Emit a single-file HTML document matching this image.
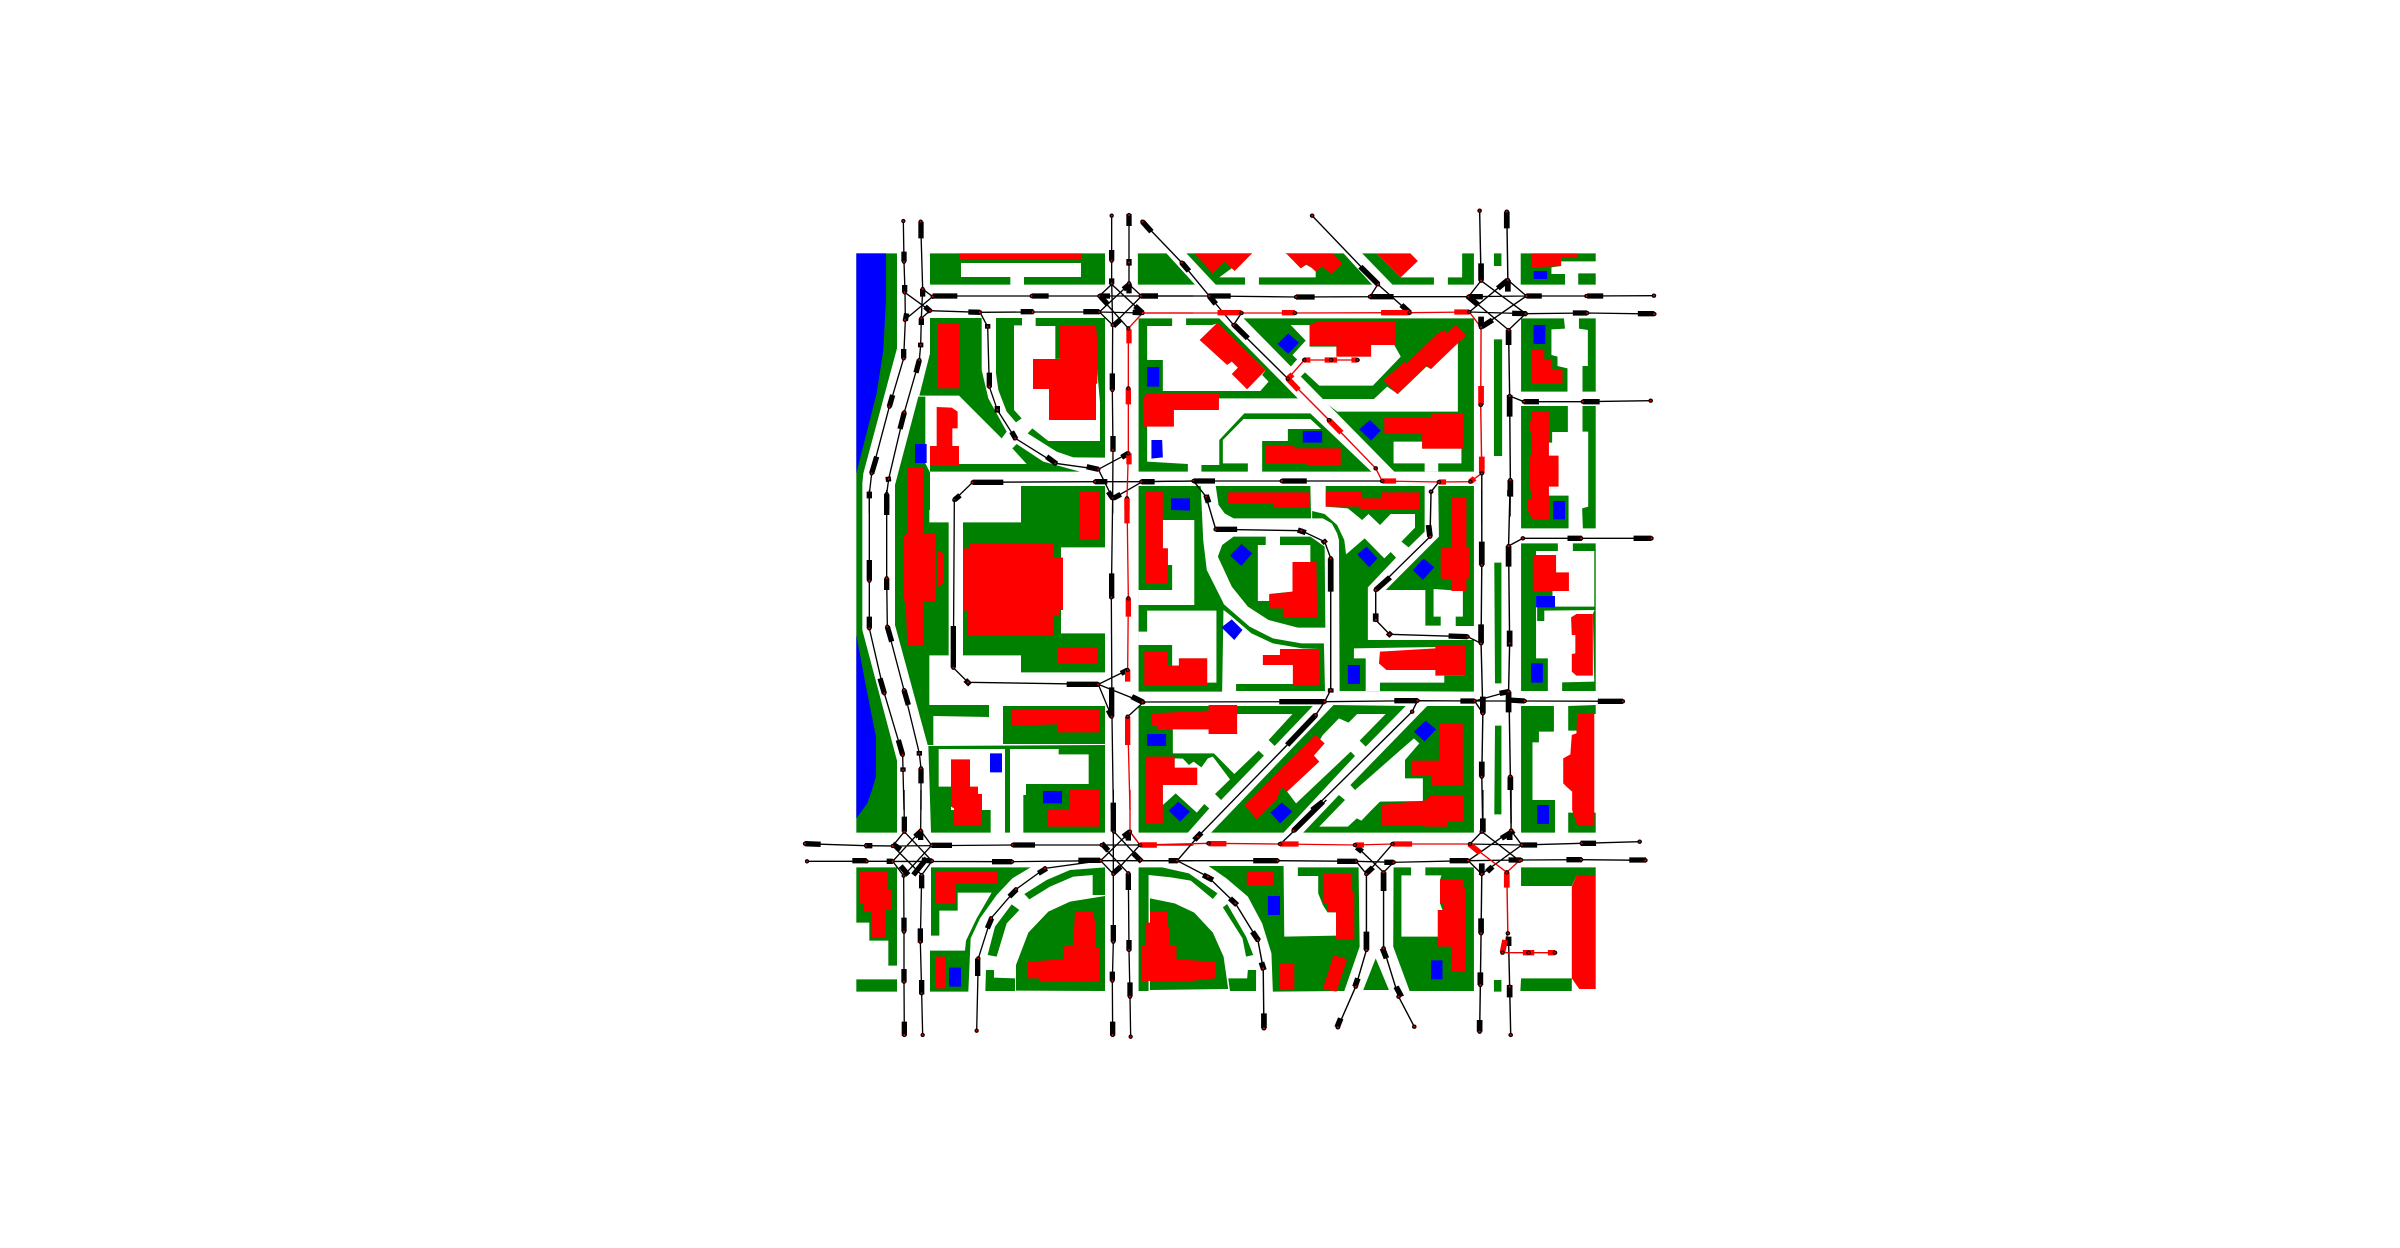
<!DOCTYPE html>
<html lang="en">
<head>
<meta charset="utf-8">
<title>Traffic network map</title>
<style>
html,body{margin:0;padding:0;background:#fff;width:2400px;height:1248px;overflow:hidden}
svg{display:block}
.g{fill:#008000}.w{fill:#fff}.r{fill:#f00}.b{fill:#00f}
.l{fill:none;stroke:#000;stroke-width:4}
.v{fill:none;stroke:#000;stroke-width:16}
.lr{fill:none;stroke:#e00;stroke-width:4}
.vr{fill:none;stroke:#f00;stroke-width:16}
.n{fill:none;stroke:#000;stroke-width:13;stroke-linecap:round}
.nr{fill:none;stroke:#e00000;stroke-width:6;stroke-linecap:round}
</style>
</head>
<body>
<svg xmlns="http://www.w3.org/2000/svg" width="2400" height="1248" viewBox="0 0 2400 1248">
<g>
<g transform="translate(780 190) scale(.33333)">
<path class="g" d="M229,190 351,190 351,475 250,850 247,880 247,1320 351,1712 351,1928 229,1928Z
M450,190 975,190 975,284 732,284 732,261 903,261 903,219 543,219 543,261 691,261 691,284 450,284Z
M450,384 605,384 605,540 625,625 680,725 665,745 537,617 418,617 450,490Z
M648,384 726,384 726,406 702,406 702,660 725,685 708,697 680,665 655,600 648,550Z
M767,384 975,384 975,803 880,802 830,785 743,730 757,715 805,753 960,753 960,638 948,500 826,507 826,408 767,408Z
M450,822 740,822 697,775 710,762 790,815 900,845 450,845Z
M415,620 436,620 436,820 450,847 450,960 345,960 345,885Z"/>
<path class="b" d="M229,190 318,190 318,330 310,480 290,610 229,850Z"/>
<path class="b" d="M229,1335 260,1500 288,1640 288,1760 276,1800 262,1840 229,1885Z"/>
<path class="r" d="M537,190 906,190 906,207 537,207Z
M472,401 537,401 537,595 472,595Z
M840,406 948,406 952,460 952,580 948,582 948,690 807,690 807,597 759,597 759,507 840,507Z
M381,833 430,833 430,960 381,960Z
M470,651 515,653 533,665 533,715 517,715 517,768 537,768 537,827 450,827 450,768 470,768Z"/>
<path class="b" d="M405,762 440,762 440,819 405,819Z"/>
</g>
<g transform="translate(780 490) scale(.33333)">
<path class="g" d="M723,-12 975,-12 975,172 843,172 843,430 975,430 975,547 723,547 723,496 549,496 549,97 723,97Z
M345,0 448,0 448,97 506,97 506,496 448,496 448,645 627,645 627,681 460,678 460,765 443,765 345,405Z
M669,648 975,648 975,762 669,762Z
M445,768 975,765 975,1028 730,1028 730,915 738,915 738,882 926,882 926,793 836,793 836,777 690,777 690,1028 675,1028 675,777 476,777 476,890 513,890 513,960 606,960 632,960 632,1028 453,1028Z"/>
<path class="r" d="M897,5 960,5 960,147 897,147Z
M568,160 822,160 822,203 849,203 849,360 838,360 838,375 822,375 822,437 564,437 564,362 549,362 549,175 568,175Z
M832,472 952,472 952,519 832,519Z
M695,660 957,660 957,727 833,727 833,703 695,707Z
M381,0 430,0 430,130 466,130 466,335 432,335 432,467 382,467 377,335 370,330 370,140 381,130Z
M472,180 490,190 490,280 472,292Z
M513,808 570,808 570,890 594,890 594,912 606,912 606,1005 522,1005 522,955 513,950Z
M870,898 960,898 960,1010 803,1010 803,960 870,960Z"/>
<path class="b" d="M630,790 666,790 666,847 630,847Z M789,903 846,903 846,940 789,940Z"/>
</g>
<g transform="translate(780 790) scale(.33333)">
<path class="g" d="M229,232 351,232 351,527 325,527 325,452 268,452 268,398 229,398Z
M229,568 351,568 351,605 229,605Z
M453,232 752,232 697,265 650,315 600,385 572,445 565,605 450,605 450,482 555,482 558,452 590,385 635,308 533,308 533,362 478,362 478,437 453,437Z
M733,312 800,270 870,240 975,232 975,315 938,315 938,255 880,260 810,290 748,328Z
M695,343 718,360 680,400 650,500 623,495 645,410Z
M618,540 642,540 642,563 705,565 705,603 616,603Z
M708,525 745,428 805,365 870,335 975,318 975,603 708,602Z"/>
<path class="r" d="M238,244 324,244 324,297 333,297 333,360 318,360 318,443 275,443 275,363 250,363 250,340 238,338Z
M468,245 653,245 653,282 527,282 527,340 468,340Z
M465,500 495,500 495,595 465,595Z
M885,363 937,363 947,400 947,473 958,473 958,575 777,575 777,565 741,565 741,515 850,508 850,470 880,466Z"/>
<path class="b" d="M507,533 543,533 543,590 507,590Z"/>
</g>
<g transform="translate(1130 190) scale(.35714 .33333)">
<path class="g" d="M22,190 102,190 182,284 22,284Z
M158,190 342,190 250,262 322,262 322,284 240,284Z
M435,190 598,190 678,284 361,284 361,262 520,262 520,240Z
M650,190 690,190 758,262 851,262 851,284 735,284Z
M890,262 930,262 930,190 963,190 963,284 890,284Z
M1019,190 1040,190 1040,228 1019,228Z
M1094,190 1304,190 1304,214 1207,214 1207,228 1180,232 1180,252 1218,252 1218,284 1094,284Z
M1255,250 1304,250 1304,284 1255,284Z
M24,385 118,385 118,408 48,408 48,510 92,510 92,603 250,603 250,625 48,625 48,815 162,822 162,845 24,845Z
M157,385 250,385 470,625 250,625 250,603 365,603 388,575 370,555 380,540 245,400 230,405 157,405Z
M318,385 963,385 963,845 740,845Z
M250,750 320,670 505,670 676,845 370,845 370,753 442,753 442,717 535,717 505,687 318,687 260,750 260,820 330,820 330,845 200,845 200,825 250,825Z
M1019,448 1042,448 1042,798 1019,798Z
M1095,385 1215,385 1218,416 1180,418 1180,495 1197,500 1197,528 1225,535 1225,605 1095,605Z
M1257,385 1304,385 1304,605 1267,605 1267,528 1282,528 1282,420 1257,416Z
M1095,648 1226,648 1226,726 1182,726 1182,758 1172,758 1172,917 1228,917 1228,1015 1095,1015Z
M1267,648 1304,648 1304,1015 1268,1015 1266,955 1283,950 1283,725 1267,725Z"/>
<path class="w" d="M450,405 503,405 503,470 578,470 578,500 675,500 675,465 740,465 758,500 680,587 530,587 490,547 478,560 450,530 468,508 455,495 492,452Z
M535,627 683,627 720,590 750,612 830,530 843,537 918,455 918,665 580,665Z
M738,755 818,755 818,776 928,776 928,820 863,820 863,845 825,845 825,820 738,820Z"/>
<path class="r" d="M180,190 342,190 293,243 265,215 232,250Z
M437,190 568,190 595,220 563,252 538,230 520,245 497,222 478,235Z
M690,190 785,190 806,213 758,262Z
M1124,190 1253,190 1253,201 1207,201 1207,228 1124,232Z
M195,450 245,398 380,540 328,598 285,552 302,533 285,515 272,525Z
M36,625 48,610 249,610 249,660 123,660 123,710 37,710Z
M503,405 525,395 742,395 742,465 675,465 675,500 578,500 578,468 503,468Z
M710,570 770,515 775,520 860,432 880,420 888,430 912,405 942,435 843,537 830,528 748,612Z
M712,683 843,683 843,670 935,670 935,776 818,776 818,730 712,730Z
M378,766 460,766 460,775 590,775 590,827 495,827 495,820 378,820Z
M1124,480 1160,480 1160,507 1182,507 1182,537 1211,540 1211,581 1124,581Z
M1125,665 1173,665 1173,797 1200,797 1200,890 1173,890 1173,988 1128,988 1113,960 1113,930 1125,925 1120,890 1120,800 1125,795 1125,730 1120,725 1120,695 1125,690Z"/>
<path class="b" d="M1130,243 1168,243 1168,267 1130,267Z
M443,430 473,458 443,492 413,462Z
M48,531 82,531 82,590 48,590Z
M60,750 90,750 92,802 60,806Z
M672,690 702,722 675,752 642,718Z
M484,723 538,723 538,758 484,758Z
M1130,405 1163,405 1163,462 1130,462Z
M1185,933 1218,933 1218,988 1185,988Z"/>
</g>
<g transform="translate(1130 490) scale(.35714 .33333)">
<path class="g" d="M24,-12 198,-12 205,150 215,240 262,340 258,605 24,605Z
M240,-12 505,-12 507,85 290,85 265,70 248,45Z
M297,582 530,582 530,477 482,475 400,460 340,430 280,375 262,360 260,388 262,342 335,410 400,445 480,460 543,460 546,603 297,603Z
M246,200 258,165 290,140 380,140 380,165 358,165 358,333 390,333 390,312 455,305 455,216 505,216 505,165 420,165 420,140 505,140 545,170 547,413 470,413 388,390 330,350 285,290Z
M510,63 545,72 580,105 600,150 605,193 657,145 712,205 730,186 745,203 666,292 666,450 963,450 963,605 587,603 585,150 580,130 565,100 540,85 510,85Z
M548,-12 825,-12 825,125 780,172 760,155 798,113 798,72 730,72 700,105 668,72 650,90 610,55 548,50Z
M863,-12 963,-12 963,408 912,408 912,380 932,380 932,303 850,297 850,380 870,380 870,407 827,407 827,300 716,300 865,140Z
M1020,218 1040,218 1040,580 1022,580Z
M1095,160 1198,160 1198,183 1137,183 1137,505 1170,505 1170,603 1095,603Z
M1137,303 1183,303 1183,318 1137,318Z
M1140,350 1304,350 1304,360 1160,362 1160,393 1140,393Z
M1240,160 1304,160 1304,183 1240,183Z M1300,183 1304,183 1304,350 1300,350Z
M1210,577 1300,575 1296,372 1304,350 1304,603 1210,603Z
M24,648 512,648 405,768 388,750 455,672 120,672 120,790 235,790 292,852 360,782 375,797 255,930 238,912 280,868 232,800 218,805 200,832 178,815 165,825 148,806 125,805 125,835 188,835 188,885 92,885 92,945 128,910 187,968 208,942 222,955 162,1028 24,1028Z
M227,1028 570,645 772,648 660,770 643,752 716,672 636,672 612,698 585,685 540,735 440,905 465,940 618,785 630,798 430,1028Z
M832,648 963,648 963,1028 485,1028 585,915 602,930 530,1010 610,1010 635,985 648,992 672,965 700,935 820,933 820,865 770,865 770,810 810,760 795,745 630,900 617,885Z
M1022,707 1040,707 1040,973 1020,973Z
M1095,648 1187,648 1187,725 1145,725 1145,757 1127,757 1127,930 1190,930 1190,1028 1095,1028Z
M1227,648 1304,645 1304,672 1252,672 1252,722 1227,722Z
M1227,968 1304,968 1304,1028 1227,1028Z"/>
<path class="w" d="M92,90 180,90 180,345 24,345 24,300 118,300 118,225 106,225 106,175 92,175Z
M48,362 242,362 242,578 216,578 216,505 137,505 137,527 118,527 118,465 24,465 24,425 48,425Z
M627,475 938,470 938,557 880,557 880,578 700,578 700,603 660,603 660,505 627,505Z"/>
<path class="r" d="M42,5 92,5 92,175 106,175 106,280 42,280Z
M40,483 106,483 106,527 137,527 137,505 216,505 216,587 40,587Z
M275,7 503,7 503,52 402,52 402,40 275,40Z
M455,216 522,216 524,382 428,382 428,355 390,355 390,313 455,305Z
M420,477 532,477 532,585 456,585 456,525 372,525 372,495 420,495Z
M548,5 650,5 650,25 705,25 705,7 810,7 810,58 645,58 645,50 548,50Z
M700,485 855,475 855,467 938,467 938,557 855,557 855,540 718,540 697,520Z
M900,22 942,22 942,172 952,172 952,265 942,265 942,303 900,303 900,270 870,265 870,175 900,172Z
M1128,195 1193,195 1193,247 1229,247 1229,303 1128,303Z
M1250,372 1296,372 1296,557 1250,557 1237,545 1237,492 1247,490 1247,435 1237,435 1235,382Z
M60,670 220,662 220,645 300,645 300,732 220,732 220,718 75,718 75,708 60,705Z
M45,800 125,800 125,833 188,833 188,885 92,885 92,1000 45,1000Z
M520,735 545,760 515,797 530,815 440,905 425,890 410,930 355,988 320,945Z
M865,700 932,700 932,885 843,885 843,855 787,855 787,812 865,812Z
M703,945 825,932 843,915 935,915 935,995 888,995 888,1010 825,1010 825,1005 703,1005Z
M1252,672 1300,672 1300,1005 1252,1005 1238,960 1238,905 1222,890 1213,880 1213,805 1233,793 1237,735 1250,730Z"/>
<path class="b" d="M115,25 168,25 168,62 115,60Z
M312,162 342,190 312,228 280,197Z
M285,388 315,420 292,450 256,412Z
M636,193 663,170 693,205 670,232Z
M610,525 644,525 644,582 610,582Z
M822,205 852,232 820,270 792,240Z
M1137,318 1190,318 1190,352 1137,352Z
M1123,520 1156,520 1156,578 1123,578Z
M48,732 101,732 101,768 48,768Z
M135,935 168,965 140,995 108,962Z
M425,938 455,965 420,1000 393,968Z
M828,692 857,718 825,755 795,725Z
M1140,945 1173,945 1173,1002 1140,1002Z"/>
</g>
<g transform="translate(1130 790) scale(.35714 .33333)">
<path class="g" d="M24,232 90,232 165,250 245,310 232,327 170,272 115,262 52,255 52,603 24,603Z
M56,325 125,340 180,368 232,428 262,500 275,597 56,600Z
M272,342 325,440 345,495 325,500 315,445 260,352Z
M275,565 328,565 330,540 353,540 353,603 280,603Z
M220,228 430,228 432,440 577,437 577,367 553,367 540,345 527,310 527,258 470,258 470,232 640,232 643,470 600,603 400,605 396,490 370,400 330,320 270,265Z
M688,505 725,600 653,600Z
M738,232 787,232 787,256 760,256 760,440 862,440 862,360 875,360 868,340 868,270 872,256 827,256 827,232 963,232 963,603 783,603 737,470Z
M1019,570 1040,570 1040,605 1019,605Z
M1095,232 1304,232 1304,258 1250,258 1237,288 1095,288Z
M1095,565 1237,565 1237,603 1093,603Z"/>
<path class="r" d="M56,365 105,365 105,410 110,410 110,467 130,467 130,508 238,515 238,565 170,573 33,573 33,468 45,468 45,398 56,398Z
M327,246 403,246 403,287 327,287Z
M420,520 460,520 460,600 420,600Z
M570,495 608,508 578,605 540,597Z
M540,250 622,250 622,305 628,305 628,447 577,447 577,367 553,365 553,342 540,340Z
M868,270 932,270 932,293 938,293 938,545 900,545 900,470 862,470 862,360 878,360 878,340 868,340Z
M1250,258 1304,258 1304,597 1258,597 1237,565 1237,290Z"/>
<path class="b" d="M386,318 420,318 420,375 386,375Z M843,511 875,511 875,568 843,568Z"/>
</g>
</g>
<g>
<g transform="translate(780 190) scale(.33333)">
<path class="l" d="M370,93 372,215 375,305 376,390 371,505 328,650 275,850 268,912 268,970
M422,95 428,297 424,385 422,465 418,510 373,667 326,867 320,912 320,970
M374,307 450,362 424,385 M376,388 458,320 428,297
M458,318 755,318 958,318 1240,318 M450,362 600,367 758,366 958,366 1088,369
M600,367 623,410 628,590 652,660 706,745 826,820 955,838 1045,790 M955,838 998,925
M958,318 995,283 1088,369 M1047,283 958,366 998,405 1085,318 1047,283 M958,318 1045,415
M995,77 995,275 998,405 997,600 999,780 998,925 998,970 M1047,75 1047,283
M523,930 578,877 945,875 1087,875 1240,873 M1087,875 1000,925"/>
<path class="lr" d="M1088,369 1045,415 1045,595 1045,790 1041,925 1041,970 M1088,369 1240,369"/>
<path class="v" d="M372,185 372,215 M374,285 374,307 M380,370 376,392 M371,477 371,505 M328,650 338,615 M275,850 290,800 M268,905 268,925
M423,95 423,145 M428,297 428,320 M424,385 424,405 M422,458 422,472 M418,510 408,548 M373,667 360,717 M324,860 326,875 M320,912 320,960
M458,318 532,318 M755,318 806,318 M958,318 990,318 M435,350 452,365 M565,366 600,367 M722,365 760,365 M910,365 958,365 M1058,367 1085,368
M623,402 623,416 M628,548 628,592 M652,648 652,668 M695,725 708,748 M800,800 830,822 M920,830 955,838 M1025,802 1045,790
M995,180 995,212 M995,265 995,283 M1000,408 1022,388 M997,550 997,600 M999,738 999,785
M1047,72 1047,108 M1047,207 1047,227 M1030,298 1052,280 M1047,280 1047,310 M962,320 982,342 M1065,348 1088,369
M1085,318 1134,318 M578,877 670,877 M945,875 982,875 M1085,875 1124,875 M523,930 540,916 M985,905 998,925 M1000,925 1022,913"/>
<path class="vr" d="M1047,418 1047,460 M1045,595 1045,643 M1047,790 1047,823 M1041,925 1041,960"/>
<path class="n" d="M370,93h0M372,215h0M374,307h0M375,390h0M371,505h0M328,650h0M275,850h0M268,912h0M422,95h0M428,297h0M424,385h0M422,465h0M418,510h0M373,667h0M326,867h0M320,912h0M458,320h0M450,362h0M600,367h0M755,318h0M758,366h0M958,318h0M958,366h0M995,77h0M995,212h0M995,280h0M998,405h0M997,600h0M999,780h0M998,925h0M1047,75h0M1047,217h0M1047,280h0M1085,318h0M1088,369h0M1045,415h0M1045,595h0M1045,790h0M1041,925h0M623,410h0M628,590h0M652,660h0M706,745h0M826,820h0M955,838h0M523,930h0M578,877h0M945,875h0M1087,875h0"/>
<path class="nr" d="M370,93h0M372,215h0M374,307h0M375,390h0M371,505h0M328,650h0M275,850h0M268,912h0M422,95h0M428,297h0M424,385h0M422,465h0M418,510h0M373,667h0M326,867h0M320,912h0M458,320h0M450,362h0M600,367h0M755,318h0M758,366h0M958,318h0M958,366h0M995,77h0M995,212h0M995,280h0M998,405h0M997,600h0M999,780h0M998,925h0M1047,75h0M1047,217h0M1047,280h0M1085,318h0M1088,369h0M1045,415h0M1045,595h0M1045,790h0M1041,925h0M623,410h0M628,590h0M652,660h0M706,745h0M826,820h0M955,838h0M523,930h0M578,877h0M945,875h0M1087,875h0"/>
</g>
<g transform="translate(780 490) scale(.33333)">
<path class="l" d="M268,0 268,272 268,415 313,610 368,795 369,840 372,960 M320,0 320,265 322,410 372,600 418,790 423,835 423,960
M523,30 520,533 564,577 955,583 1043,540 M955,583 995,680 M955,583 1090,637 1043,680
M998,25 994,322 996,680 1000,960"/>
<path class="lr" d="M1041,25 1045,325 1043,540 M1043,680 1050,960"/>
<path class="v" d="M268,210 268,272 M268,380 268,415 M300,565 313,610 M355,750 368,795 M369,832 369,845
M320,15 320,75 M320,265 320,300 M322,410 335,455 M372,600 385,645 M418,783 418,797 M423,835 423,880
M520,408 520,533 M556,570 570,584 M860,583 955,583 M1023,550 1043,540 M985,660 995,680 M1060,622 1090,637
M995,250 995,325 M995,592 995,680 M1000,938 1000,960"/>
<path class="vr" d="M1041,25 1041,100 M1045,325 1045,380 M1043,540 1043,575 M1043,680 1043,765"/>
<path class="n" d="M268,272h0M268,415h0M313,610h0M368,795h0M369,840h0M320,265h0M322,410h0M372,600h0M418,790h0M423,835h0M520,533h0M564,577h0M955,583h0M1043,540h0M995,680h0M1090,637h0M1043,680h0M994,322h0M1045,325h0"/>
<path class="nr" d="M268,272h0M268,415h0M313,610h0M368,795h0M369,840h0M320,265h0M322,410h0M372,600h0M418,790h0M423,835h0M520,533h0M564,577h0M955,583h0M1043,540h0M995,680h0M1090,637h0M1043,680h0M994,322h0M1045,325h0"/>
</g>
<g transform="translate(780 790) scale(.33333)">
<path class="l" d="M372,0 373,125 M423,0 422,122
M373,125 456,213 425,255 338,168 373,125 M422,122 338,214 371,257 455,166 422,122
M371,257 372,425 372,575 373,735 M425,255 421,455 425,610 428,735
M75,161 258,167 338,168 698,165 965,165 1240,165 M81,214 260,214 338,214 696,215 962,212 1240,212
M1002,125 1082,210 M965,165 1045,250 M1050,125 962,212 1000,252 1080,165 1050,125
M1000,0 1000,252 1000,455 997,572 998,735 M1045,250 1047,480 1050,620 1052,740
M962,212 795,235 708,298 633,385 595,505 590,722"/>
<path class="lr" d="M1050,0 1050,125 1080,165 1240,165"/>
<path class="v" d="M373,80 373,125 M405,140 425,122 M422,122 422,150
M372,383 372,425 M372,537 372,577 M373,695 373,737 M425,255 425,295 M421,415 421,458 M425,570 425,613
M75,161 122,163 M255,167 277,167 M338,162 362,178 M217,212 260,212 M320,214 338,214 M362,228 385,255 M425,210 456,213 M400,255 440,205 M455,166 516,166 M698,165 765,165 M636,215 696,215 M895,211 960,211
M965,160 985,182 M1060,190 1085,215 M1000,250 1022,230 M1000,40 1000,125 M1000,405 1000,455 M997,545 997,572 M998,695 998,737 M1045,250 1045,300 M1047,450 1047,482 M1050,577 1050,620 M1045,125 1045,152 M1030,140 1050,125
M775,250 800,235 M688,320 710,298 M622,415 635,385 M593,505 593,558"/>
<path class="vr" d="M1085,165 1130,165"/>
<path class="n" d="M373,125h0M422,122h0M338,168h0M455,166h0M456,213h0M425,255h0M371,257h0M338,214h0M75,161h0M258,167h0M81,214h0M260,214h0M372,425h0M372,575h0M373,735h0M421,455h0M425,610h0M428,735h0M698,165h0M696,215h0M965,165h0M962,212h0M1002,125h0M1050,125h0M1080,165h0M1082,210h0M1045,250h0M1000,252h0M1000,455h0M997,572h0M998,735h0M1047,480h0M1050,620h0M1052,740h0M795,235h0M708,298h0M633,385h0M595,505h0M590,722h0"/>
<path class="nr" d="M373,125h0M422,122h0M338,168h0M455,166h0M456,213h0M425,255h0M371,257h0M338,214h0M75,161h0M258,167h0M81,214h0M260,214h0M372,425h0M372,575h0M373,735h0M421,455h0M425,610h0M428,735h0M698,165h0M696,215h0M965,165h0M962,212h0M1002,125h0M1050,125h0M1080,165h0M1082,210h0M1045,250h0M1000,252h0M1000,455h0M997,572h0M998,735h0M1047,480h0M1050,620h0M1052,740h0M795,235h0M708,298h0M633,385h0M595,505h0M590,722h0"/>
</g>
<g transform="translate(1130 190) scale(.35714 .33333)">
<path class="l" d="M30,318 220,318 465,321 672,320 948,320 1110,318 1278,318 1467,317
M35,95 145,218 222,318 290,405 442,566 M312,369 290,405
M510,77 694,283 783,368 M672,320 694,283
M950,366 1108,371 1280,369 1468,372
M948,320 983,272 1108,371 M1058,270 950,366 M1058,270 1110,318 983,412 M948,320 1060,420 1108,371
M979,62 983,272 M1055,65 1058,270 M1060,420 1063,618 1065,870 1064,980
M1063,618 1103,635 1268,635 1458,632
M32,875 178,873 425,873 706,873"/>
<path class="lr" d="M37,369 312,369 462,369 783,368 950,366 983,412 982,645 985,850 953,875 865,876 706,873 688,835 557,690 442,566 488,510 563,510 637,510"/>
<path class="l" d="M985,850 985,1000 M865,876 843,905"/>
<path class="v" d="M30,318 78,318 M220,318 282,318 M465,321 517,321 M672,320 738,320 M948,320 988,320 M945,318 975,345
M35,95 60,125 M145,218 165,243 M222,318 240,342 M292,405 330,445 M645,230 695,283 M760,345 783,368
M983,220 983,272 M983,380 983,410 M985,410 1015,390 M1055,65 1055,115 M1058,270 1058,305 M1030,295 1058,270
M1060,420 1060,465 M1063,615 1063,680 M1065,870 1065,920 M1103,635 1145,635 M1268,635 1315,635
M1070,370 1110,371 M1240,369 1280,369 M1422,371 1468,371 M1110,318 1153,318 M1280,318 1325,318
M32,875 68,875 M178,873 238,873 M425,873 495,873"/>
<path class="vr" d="M245,368 312,368 M425,368 462,368 M703,368 783,368 M908,366 950,366 M442,566 472,600 M557,690 592,728 M706,873 745,873 M865,876 885,876 M953,875 965,865 M985,800 985,850 M983,588 983,645 M487,510 505,510 M545,510 580,510 M620,510 637,510 M442,566 455,553"/>
<path class="n" d="M222,318h0M312,369h0M462,369h0M465,321h0M672,320h0M783,368h0M948,320h0M950,366h0M983,272h0M1058,270h0M1110,318h0M1108,371h0M1060,420h0M983,412h0M979,62h0M1055,65h0M1063,618h0M1065,870h0M1103,635h0M1268,635h0M1458,632h0M1280,369h0M1468,372h0M1278,318h0M1467,317h0M35,95h0M145,218h0M290,405h0M442,566h0M488,510h0M563,510h0M637,510h0M510,77h0M694,283h0M557,690h0M688,835h0M706,873h0M865,876h0M953,875h0M985,850h0M982,645h0M843,905h0M178,873h0M425,873h0M32,875h0M30,318h0"/>
<path class="nr" d="M222,318h0M312,369h0M462,369h0M465,321h0M672,320h0M783,368h0M948,320h0M950,366h0M983,272h0M1058,270h0M1110,318h0M1108,371h0M1060,420h0M983,412h0M979,62h0M1055,65h0M1063,618h0M1065,870h0M1103,635h0M1268,635h0M1458,632h0M1280,369h0M1468,372h0M1278,318h0M1467,317h0M35,95h0M145,218h0M290,405h0M442,566h0M488,510h0M563,510h0M637,510h0M510,77h0M694,283h0M557,690h0M688,835h0M706,873h0M865,876h0M953,875h0M985,850h0M982,645h0M843,905h0M178,873h0M425,873h0M32,875h0M30,318h0"/>
</g>
<g transform="translate(1130 490) scale(.35714 .33333)">
<path class="l" d="M178,-27 213,20 240,118 480,122 545,155 562,205 562,600 545,635
M35,636 545,635 805,632 965,633 1105,633 1380,634
M545,635 520,675 440,765 190,1040 M805,632 790,665 530,940 M843,5 840,140 688,300 688,390 727,433 945,440 983,460
M985,0 985,225 983,460 988,670 985,860 988,1030 M965,633 988,670 M965,633 1060,605
M1060,168 1100,145 1263,145 1460,145 M1064,0 1060,168 1063,460 1060,605 1062,665 1065,860 1067,1000"/>
<path class="v" d="M213,15 220,38 M240,118 300,118 M470,120 492,128 M540,150 548,160 M562,205 562,305 M562,595 562,608 M5,620 35,636
M418,635 545,635 M740,632 805,632 M925,633 965,633 M440,765 520,675 M836,105 840,140 M688,300 728,262 M688,370 688,395 M722,428 732,438 M892,438 945,440
M985,155 985,225 M983,403 983,460 M988,620 988,670 M985,815 985,860 M1035,610 1060,605 M1060,605 1060,667 M1060,630 1105,633 M1310,634 1380,634
M1060,168 1060,230 M1063,422 1063,470 M1065,860 1065,900 M1064,0 1064,18 M1225,145 1265,145 M1410,145 1460,145 M510,960 540,935"/>
<path class="n" d="M213,20h0M240,118h0M480,122h0M545,155h0M562,205h0M562,600h0M545,635h0M35,636h0M805,632h0M965,633h0M1105,633h0M1380,634h0M790,665h0M520,675h0M843,5h0M840,140h0M688,300h0M688,390h0M727,433h0M945,440h0M983,460h0M985,225h0M988,670h0M985,860h0M1060,168h0M1100,145h0M1263,145h0M1460,145h0M1063,460h0M1060,605h0M1065,860h0"/>
<path class="nr" d="M213,20h0M240,118h0M480,122h0M545,155h0M562,205h0M562,600h0M545,635h0M35,636h0M805,632h0M965,633h0M1105,633h0M1380,634h0M790,665h0M520,675h0M843,5h0M840,140h0M688,300h0M688,390h0M727,433h0M945,440h0M983,460h0M985,225h0M988,670h0M985,860h0M1060,168h0M1100,145h0M1263,145h0M1460,145h0M1063,460h0M1060,605h0M1065,860h0"/>
</g>
<g transform="translate(1130 790) scale(.35714 .33333)">
<path class="l" d="M32,212 132,212 413,212 633,214 738,217 947,212 1095,210 1263,209 1443,211
M950,162 1097,165 1265,160 1427,155
M132,212 190,140 M132,212 218,260 295,340 358,450 373,535 375,715
M550,30 421,162
M630,165 710,247 M735,162 662,252 M633,214 662,252 M738,217 710,247
M662,252 662,480 632,590 582,712 M710,247 710,475 752,620 796,710
M985,125 1090,212 M1067,122 947,212 985,252 1097,165 1067,122 M985,125 952,162
M988,0 988,125 M985,252 983,430 981,585 979,725 M1067,0 1067,122 M1060,450 1063,590 1066,735"/>
<path class="lr" d="M28,165 220,160 420,162 630,165 735,162 950,162 1055,247 1058,430 1043,488 1190,488 M1090,212 1055,247"/>
<path class="v" d="M108,212 134,212 M345,212 414,212 M580,214 635,214 M712,217 738,217 M895,212 947,212 M1060,210 1095,210 M1222,209 1265,209 M1398,210 1445,210
M1095,165 1140,165 M1262,160 1305,160 M180,150 200,128 M205,255 232,270 M280,325 300,345 M343,425 360,452 M368,517 375,540 M375,670 375,715 M458,122 540,35
M662,425 662,480 M638,565 630,590 M590,685 580,712 M710,247 710,303 M707,475 718,505 M745,590 760,620 M662,250 680,232 M635,172 650,185
M988,85 988,127 M985,220 985,255 M1000,245 1015,230 M983,385 983,430 M981,547 981,585 M979,690 979,725 M1063,125 1063,150 M1040,145 1075,122 M1060,440 1060,468 M1063,585 1063,622"/>
<path class="vr" d="M28,165 75,165 M220,161 270,161 M420,162 472,162 M630,165 655,165 M735,162 790,162 M950,162 980,188 M1055,247 1055,293 M1043,488 1050,450 M1100,488 1132,488 M1170,488 1190,488"/>
<path class="n" d="M28,165h0M220,160h0M420,162h0M630,165h0M735,162h0M952,162h0M132,212h0M413,212h0M633,214h0M738,217h0M947,212h0M1095,210h0M1263,209h0M1443,211h0M1097,165h0M1265,160h0M1427,155h0M985,125h0M1067,122h0M1090,212h0M1055,247h0M985,252h0M1058,430h0M1043,488h0M1116,488h0M1190,488h0M662,252h0M710,247h0M662,480h0M632,590h0M582,712h0M710,475h0M752,620h0M796,710h0M218,260h0M295,340h0M358,450h0M373,535h0M375,715h0M458,122h0M983,430h0M981,585h0M979,725h0M1063,590h0M1066,735h0M190,140h0"/>
<path class="nr" d="M28,165h0M220,160h0M420,162h0M630,165h0M735,162h0M952,162h0M132,212h0M413,212h0M633,214h0M738,217h0M947,212h0M1095,210h0M1263,209h0M1443,211h0M1097,165h0M1265,160h0M1427,155h0M985,125h0M1067,122h0M1090,212h0M1055,247h0M985,252h0M1058,430h0M1043,488h0M1116,488h0M1190,488h0M662,252h0M710,247h0M662,480h0M632,590h0M582,712h0M710,475h0M752,620h0M796,710h0M218,260h0M295,340h0M358,450h0M373,535h0M375,715h0M458,122h0M983,430h0M981,585h0M979,725h0M1063,590h0M1066,735h0M190,140h0"/>
</g>
</g>
</svg>
</body>
</html>
